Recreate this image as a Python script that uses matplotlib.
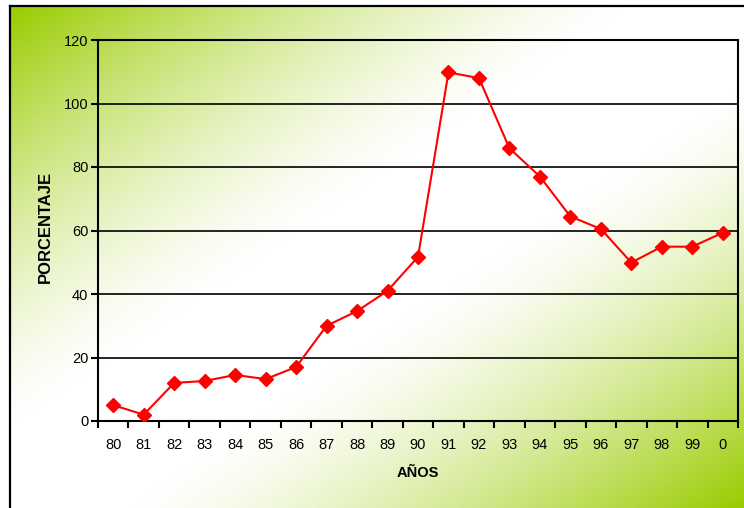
import numpy as np
import matplotlib.pyplot as plt
from matplotlib.colors import LinearSegmentedColormap

plt.rcParams['font.family'] = ['Liberation Sans', 'DejaVu Sans']

anios = ["80", "81", "82", "83", "84", "85", "86", "87", "88", "89", "90",
         "91", "92", "93", "94", "95", "96", "97", "98", "99", "0"]
porcentaje = [5, 2, 12, 12.6, 14.5, 13.2, 17, 30, 34.6, 41, 51.7,
              109.8, 108, 85.9, 77, 64.4, 60.5, 49.9, 54.9, 54.9, 59.3]
yticks = [0, 20, 40, 60, 80, 100, 120]

fig = plt.figure(figsize=(7.44, 5.08), dpi=100)

# fondo con degradado verde en diagonal
bg = fig.add_axes([10 / 744, 0, 1 - 10 / 744, 1 - 6 / 508])
nx, ny = 300, 200
gx, gy = np.meshgrid(np.linspace(0, 1, nx), np.linspace(0, 1, ny))
d = np.abs(gx + gy - 1)
k = np.clip((d - 0.15) / 0.85, 0, 1) ** 1.4
cmap = LinearSegmentedColormap.from_list("verde", ["#ffffff", "#99cc00"])
bg.imshow(k, cmap=cmap, aspect="auto", extent=[0, 1, 0, 1], origin="upper", vmin=0, vmax=1)
bg.set_xlim(0, 1)
bg.set_ylim(0, 1)
bg.set_xticks([])
bg.set_yticks([])
for s in ["right", "bottom"]:
    bg.spines[s].set_visible(False)
for s in ["left", "top"]:
    bg.spines[s].set_linewidth(1.6)
    bg.spines[s].set_color("black")

ax = fig.add_axes([98 / 744, 1 - 421 / 508, 640 / 744, 381 / 508])
ax.patch.set_alpha(0)
x = np.arange(len(anios))
ax.plot(x, porcentaje, color="#ff0000", linewidth=1.5, marker="D",
        markersize=7.5, markerfacecolor="#ff0000", markeredgecolor="#ff0000", zorder=3)

ax.set_xlim(-0.5, len(anios) - 0.5)
ax.set_ylim(0, 120)
ax.set_yticks(yticks)
ax.set_xticks(x)
ax.set_xticklabels(anios)
ax.set_xticks(np.arange(-0.5, len(anios), 1), minor=True)
ax.tick_params(axis="x", which="major", length=0, pad=12, labelsize=10.5)
ax.tick_params(axis="x", which="minor", length=5, width=1.5, direction="out")
ax.tick_params(axis="y", length=5, width=1.5, direction="out", labelsize=10.5, pad=2)

for yv in yticks[1:]:
    ax.axhline(yv, color="black", linewidth=1.2, zorder=1)
for s in ax.spines.values():
    s.set_linewidth(1.5)
    s.set_color("black")

ax.set_xlabel("AÑOS", fontsize=10.5, fontweight="bold", labelpad=10)
ax.set_ylabel("PORCENTAJE", fontsize=12, fontweight="bold", va="center")
ax.yaxis.set_label_coords(-0.083, 0.51)

fig.savefig("out.png", dpi=100)
